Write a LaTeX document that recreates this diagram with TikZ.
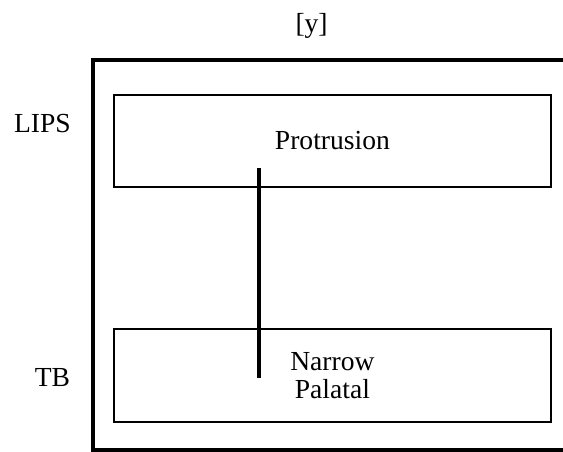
\documentclass[tikz,border=0pt]{standalone}
\usepackage{fontspec}
\setmainfont{Liberation Serif}
\usetikzlibrary{positioning}

\begin{document}
\begin{tikzpicture}[
      gbox/.style={rectangle, draw=black, line width=1.4pt, minimum width=10.94cm,
                   minimum height=2.29cm, align=center, text depth=0pt,
                   font=\fontsize{19.6}{19.9}\selectfont},
      tier/.style={font=\fontsize{19.6}{19.9}\selectfont, anchor=base},
      frame/.style={draw=black, line width=2.85pt},
      bar/.style={draw=black, line width=3.5pt}
    ]
    \useasboundingbox (0,0) rectangle (14.075,11.3);

    \draw[frame] (2.33,0.05) rectangle (14.2,9.8);

    \node[gbox]                          (lips) at (8.31,7.78) {Protrusion};
    \node[gbox, minimum height=2.325cm] (tb)   at (8.31,1.91) {Narrow\\Palatal};

    \node[tier] (lipslab) at (1.06,7.975) {LIPS};
    \node[tier] (tblab)   at (1.31,1.625) {TB};
    \node[font=\fontsize{19.6}{19.9}\selectfont] (seg) at (7.79,10.65) {[y]};

    \coordinate (gtop) at (6.475,7.1);
    \coordinate (gbot) at (6.475,1.85);
    \draw[bar] (gtop) -- (gbot);
  \end{tikzpicture}
\end{document}
